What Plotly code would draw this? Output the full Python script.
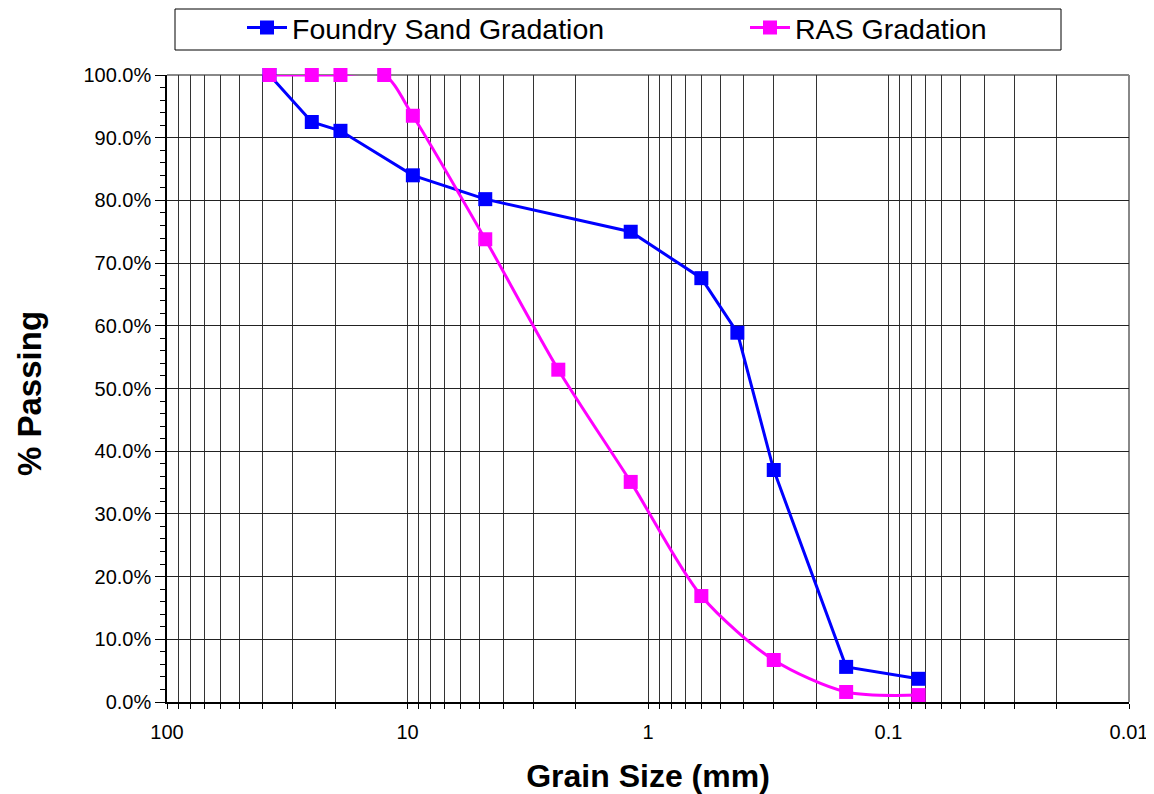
import plotly.graph_objects as go

# Sieve sizes (mm)
foundry_size = [37.5, 25, 19, 9.5, 4.75, 1.18, 0.6, 0.425, 0.3, 0.15, 0.075]
foundry_pass = [1.000, 0.925, 0.911, 0.840, 0.802, 0.750, 0.676, 0.589, 0.370, 0.056, 0.037]

ras_size = [37.5, 25, 19, 12.5, 9.5, 4.75, 2.36, 1.18, 0.6, 0.3, 0.15, 0.075]
ras_pass = [1.000, 1.000, 1.000, 1.000, 0.935, 0.738, 0.530, 0.351, 0.169, 0.067, 0.016, 0.011]

x_major = [100, 10, 1, 0.1, 0.01]
x_major_text = ["100", "10", "1", "0.1", "0.01"]
x_minor = [m * 10 ** k for k in range(-2, 2) for m in range(2, 10)]

FONT = "Liberation Sans, Arial, sans-serif"
W, H = 1146, 786  # page body has an 8px margin

fig = go.Figure()
fig.add_trace(go.Scatter(
    x=foundry_size, y=foundry_pass, name="Foundry Sand Gradation",
    mode="lines+markers", line=dict(color="#0000FF", width=3),
    marker=dict(symbol="square", size=14, color="#0000FF"),
    cliponaxis=False, legend="legend",
))
fig.add_trace(go.Scatter(
    x=ras_size, y=ras_pass, name="RAS Gradation",
    mode="lines+markers", line=dict(color="#FF00FF", width=3, shape="spline", smoothing=0.8),
    marker=dict(symbol="square", size=14, color="#FF00FF"),
    cliponaxis=False, legend="legend2",
))

leg_common = dict(
    orientation="h", xref="container", yref="container", yanchor="middle",
    y=1 - 20 / H, font=dict(size=28.5, family=FONT),
    bgcolor="rgba(0,0,0,0)", borderwidth=0, itemwidth=40,
)

fig.update_layout(
    width=W, height=H,
    margin=dict(l=159, r=25, t=67, b=92, autoexpand=False),
    paper_bgcolor="white", plot_bgcolor="white",
    font=dict(family=FONT, color="black", size=20),
    showlegend=True,
    legend=dict(leg_common, x=234 / W, xanchor="left"),
    legend2=dict(leg_common, x=737 / W, xanchor="left"),
    xaxis=dict(
        type="log", range=[2, -2], automargin=False,
        tickmode="array", tickvals=x_major, ticktext=x_major_text,
        ticks="outside", ticklen=5, tickcolor="black", tickwidth=1,
        ticklabelstandoff=6,
        showgrid=True, gridcolor="#333333", gridwidth=1,
        showline=True, linecolor="black", linewidth=1.5,
        minor=dict(tickmode="array", tickvals=x_minor, ticks="outside", ticklen=5,
                   tickcolor="black", showgrid=True, gridcolor="#333333", gridwidth=1),
        tickfont=dict(size=20),
        title=dict(text="<b>Grain Size (mm)</b>", font=dict(size=32), standoff=23),
        zeroline=False,
    ),
    yaxis=dict(
        range=[0, 1], tickmode="linear", tick0=0, dtick=0.1, tickformat=".1%",
        automargin=False,
        ticks="outside", ticklen=10, tickcolor="black",
        showgrid=True, gridcolor="#222222", gridwidth=1,
        showline=True, linecolor="black", linewidth=1.5,
        minor=dict(dtick=0.02, ticks="outside", ticklen=5, tickcolor="black", showgrid=False),
        tickfont=dict(size=20),
        zeroline=False,
    ),
    annotations=[
        dict(text="<b>% Passing</b>", textangle=-90, showarrow=False,
             xref="paper", yref="paper", x=(29 - 167) / 962, y=(702 - 394) / 627,
             xanchor="center", yanchor="middle", font=dict(size=33, family=FONT)),
    ],
    shapes=[
        dict(type="line", xref="paper", yref="paper", x0=0, x1=1, y0=1, y1=1,
             line=dict(color="#888888", width=2), layer="below"),
        dict(type="line", xref="paper", yref="paper", x0=1, x1=1, y0=0, y1=1,
             line=dict(color="#888888", width=2), layer="below"),
        dict(type="rect", xref="paper", yref="paper",
             x0=(175 - 167) / 962, x1=(1061 - 167) / 962,
             y0=(702 - 50) / 627, y1=(702 - 9) / 627,
             line=dict(color="black", width=1), fillcolor="rgba(0,0,0,0)"),
    ],
)

fig.write_html("out.html")
